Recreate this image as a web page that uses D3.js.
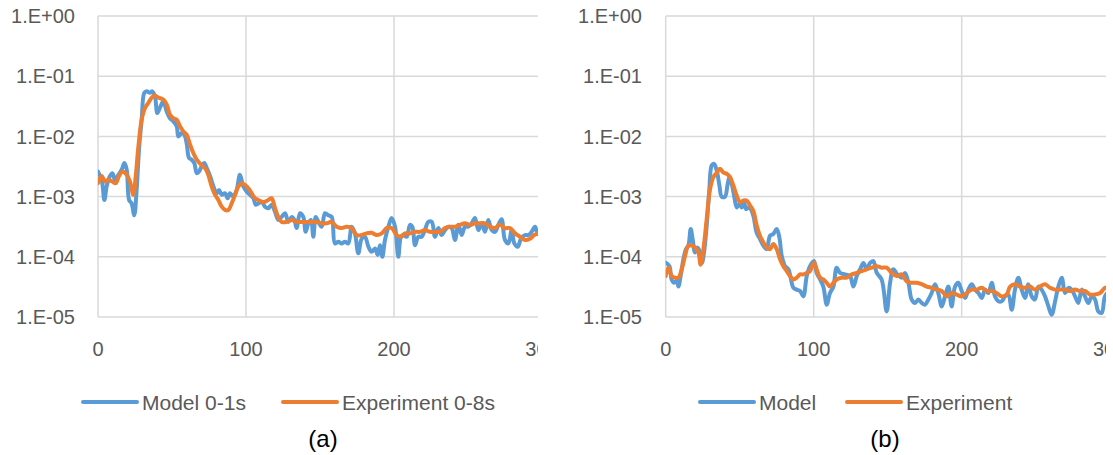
<!DOCTYPE html>
<html>
<head>
<meta charset="utf-8">
<script src="https://cdn.jsdelivr.net/npm/d3@7"></script>
<style>
  html, body { margin: 0; padding: 0; background: #fff; }
  svg { display: block; }
  text { font-family: "Liberation Sans", Arial, sans-serif; }
</style>
</head>
<body>
<svg id="chart" width="1113" height="455"></svg>
<script>
// Axis ticks
const xTicks = [0, 100, 200, 300];
const yTicks = [1, 1e-1, 1e-2, 1e-3, 1e-4, 1e-5];

// Panel (a): [time, value]
const modelA = [[0,2.6e-3],[2.5,1.9e-3],[4.3,8.8e-4],[5.9,1.5e-3],[8.1,2.2e-3],[9.7,2.45e-3],[11.5,1.9e-3],[13.3,2.2e-3],[16,2.8e-3],[17.8,3.6e-3],[19.4,2.8e-3],[21,8.8e-4],[22.7,7.7e-4],[24.5,4.9e-4],[26.1,1.3e-3],[27.7,6.0e-3],[29.5,1.9e-2],[31.3,5.3e-2],[32.9,5.6e-2],[35.1,5.3e-2],[36.7,5.6e-2],[38.5,4.6e-2],[40.1,2.45e-2],[41.9,3.0e-2],[44.1,3.8e-2],[46.4,2.6e-2],[48.6,2.0e-2],[50.9,1.78e-2],[53.2,1.47e-2],[54.3,1.0e-2],[56.5,1.14e-2],[58.3,1.07e-2],[59.9,7.7e-3],[61.5,4.4e-3],[63.3,4.1e-3],[65.1,3.6e-3],[66.7,2.45e-3],[68.2,2.6e-3],[70,3.16e-3],[71.8,3.6e-3],[73.4,3.0e-3],[75.7,2.2e-3],[78,1.47e-3],[80.2,1.14e-3],[81.8,1.29e-3],[83.6,1.07e-3],[85.8,1.14e-3],[87.6,9.4e-4],[89.2,1.14e-3],[91.4,1.0e-3],[93.7,1.29e-3],[95.9,2.3e-3],[98.2,1.47e-3],[100.5,1.21e-3],[102.7,1.07e-3],[105,9.4e-4],[106.5,7.3e-4],[108.3,7.7e-4],[110.6,8.2e-4],[112.8,6.8e-4],[115.1,6.4e-4],[117.3,7.3e-4],[119.6,5.6e-4],[121.8,4.1e-4],[124.1,4.6e-4],[126.4,5.3e-4],[128.6,3.8e-4],[130.9,4.6e-4],[132.7,4.1e-4],[134.2,3.0e-4],[136.5,5.3e-4],[138.7,4.6e-4],[140.3,2.6e-4],[142.1,3.6e-4],[143.9,4.1e-4],[145.5,2.15e-4],[147.1,4.6e-4],[148.9,3.8e-4],[151.1,3.16e-4],[153.4,5.3e-4],[155.6,4.9e-4],[157.9,4.6e-4],[160.1,1.67e-4],[162.4,1.78e-4],[164.6,1.67e-4],[166.9,1.78e-4],[169.1,1.67e-4],[171.4,3.16e-4],[173.6,2.45e-4],[175.9,1.14e-4],[178.2,2.0e-4],[180.4,2.15e-4],[182.7,1.47e-4],[184.9,1.21e-4],[187.2,1.38e-4],[189,1.07e-4],[190.5,1.56e-4],[192.1,1.0e-4],[193.9,1.9e-4],[196.2,3.16e-4],[198.4,4.4e-4],[200.7,3.16e-4],[202.9,1.0e-4],[204.7,2.15e-4],[206.3,2.3e-4],[208.6,2.15e-4],[210.8,3.4e-4],[212.4,3.16e-4],[214.2,1.56e-4],[216.4,2.15e-4],[218.7,2.15e-4],[220.9,2.78e-4],[223.2,3.8e-4],[225.5,3.8e-4],[227.7,2.15e-4],[230,3.0e-4],[232.2,2.3e-4],[234.5,2.78e-4],[236.7,3.16e-4],[239,3.0e-4],[241.2,1.9e-4],[243.5,3.4e-4],[245.7,2.3e-4],[248,3.16e-4],[250.2,3.16e-4],[252.5,3.6e-4],[254.7,4.4e-4],[257,2.78e-4],[259.2,3.6e-4],[261.5,2.6e-4],[263.7,4.1e-4],[266,2.78e-4],[268.2,2.6e-4],[270.5,3.4e-4],[272.7,4.2e-4],[275,1.9e-4],[277.3,1.67e-4],[279.5,2.78e-4],[281.3,1.67e-4],[283.6,1.47e-4],[285.8,2.0e-4],[288.5,2.3e-4],[290.8,2.3e-4],[293,2.6e-4],[295.3,3.16e-4],[297.1,2.45e-4],[300,2.6e-4]];

const experimentA = [[0,1.67e-3],[2.5,2.2e-3],[4.7,1.78e-3],[7,1.9e-3],[9.7,1.78e-3],[11.9,1.67e-3],[14.2,2.2e-3],[16.4,2.6e-3],[19.4,2.3e-3],[21.6,1.78e-3],[23.9,1.07e-3],[25.5,2.2e-3],[27.3,6.8e-3],[29.5,1.9e-2],[31.8,2.97e-2],[34,3.6e-2],[36.3,4.4e-2],[38.1,4.76e-2],[40.8,4.4e-2],[44.1,4.1e-2],[46.4,3.4e-2],[48.6,2.3e-2],[50.9,2.0e-2],[53.2,1.9e-2],[55.4,1.47e-2],[57.7,1.21e-2],[59.9,1.07e-2],[62.2,7.3e-3],[64.4,5.3e-3],[66.7,4.1e-3],[69.6,3.4e-3],[72.3,2.97e-3],[74.5,2.3e-3],[76.8,1.47e-3],[79.1,1.07e-3],[81.3,8.8e-4],[83.6,6.8e-4],[85.8,6.0e-4],[88.1,6.0e-4],[90.3,7.7e-4],[92.6,1.07e-3],[94.8,1.47e-3],[97.1,1.67e-3],[99.3,1.56e-3],[101.6,1.38e-3],[103.8,1.14e-3],[106.1,9.4e-4],[108.3,8.8e-4],[110.6,8.2e-4],[112.8,8.2e-4],[115.1,8.8e-4],[117.3,9.4e-4],[119.6,6.4e-4],[121.8,4.6e-4],[124.1,3.8e-4],[127.5,3.8e-4],[130.9,4.1e-4],[134.2,3.8e-4],[137.6,3.8e-4],[141,3.8e-4],[144.4,3.8e-4],[147.7,3.8e-4],[151.1,3.6e-4],[154.5,3.6e-4],[157.9,3.8e-4],[161.3,3.16e-4],[164.6,3.0e-4],[168,3.16e-4],[171.4,3.0e-4],[174.8,2.3e-4],[178.2,2.3e-4],[181.5,2.45e-4],[184.9,2.5e-4],[188.3,2.3e-4],[191.7,2.45e-4],[195,3.0e-4],[198.4,3.0e-4],[201.8,2.3e-4],[204.7,2.15e-4],[207.4,2.45e-4],[210.8,2.45e-4],[214.2,2.6e-4],[217.6,2.6e-4],[220.9,2.78e-4],[224.3,2.6e-4],[227.7,2.6e-4],[231.1,2.6e-4],[234.5,3.0e-4],[237.8,3.16e-4],[241.2,3.16e-4],[244.6,3.4e-4],[248,3.6e-4],[251.4,3.4e-4],[254.7,3.6e-4],[258.1,3.6e-4],[261.5,3.6e-4],[264.9,3.16e-4],[268.2,3.0e-4],[271.6,3.4e-4],[275,3.0e-4],[278.4,3.0e-4],[281.8,2.45e-4],[285.2,2.15e-4],[288.5,1.9e-4],[291.9,2.0e-4],[294.8,2.3e-4],[297.1,2.4e-4],[300,2.5e-4]];

// Panel (b): [time, value]
const modelB = [[0,8.0e-5],[2.5,7.0e-5],[4,4.2e-5],[5.6,3.7e-5],[7.4,4.0e-5],[8.6,3.2e-5],[10.1,4.8e-5],[11.9,9.0e-5],[13.7,1.34e-4],[15.3,1.53e-4],[16.9,2.9e-4],[18.2,1.97e-4],[19.8,1.18e-4],[21.4,1.43e-4],[23.2,1.18e-4],[24.5,7.9e-5],[25.9,1.18e-4],[27.7,3.3e-4],[29.5,1.34e-3],[31.1,3.3e-3],[32.7,3.5e-3],[34.5,2.7e-3],[36.3,1.53e-3],[37.8,1.0e-3],[40.1,1.0e-3],[41.7,1.53e-3],[43,2.1e-3],[44.6,1.63e-3],[46.2,1.04e-3],[48,6.6e-4],[49.8,7.5e-4],[51.4,6.6e-4],[52.9,8.1e-4],[54.3,6.2e-4],[55.9,6.6e-4],[57.4,6.2e-4],[59.2,4.8e-4],[61.5,2.5e-4],[63.7,1.97e-4],[66,1.53e-4],[68.2,1.34e-4],[70.5,2.24e-4],[72.7,2.4e-4],[75,2.9e-4],[76.8,2.1e-4],[78.4,1.04e-4],[80.6,7.0e-5],[82.9,6.2e-5],[86.3,3.05e-5],[88.5,2.85e-5],[90.8,2.7e-5],[93,2.2e-5],[95.3,4.8e-5],[97.5,7.0e-5],[100.2,8.5e-5],[102,5.4e-5],[104.3,4.2e-5],[106.5,3.2e-5],[108.8,1.6e-5],[111,2.5e-5],[113.3,3.2e-5],[115.5,6.6e-5],[117.8,5.4e-5],[121.2,5.1e-5],[124.5,4.8e-5],[126.8,3.2e-5],[129.1,4.8e-5],[131.3,6.2e-5],[133.6,7.9e-5],[135.8,6.2e-5],[138.1,7.9e-5],[140.3,8.5e-5],[142.6,5.4e-5],[145.9,4.2e-5],[149.3,1.24e-5],[151.6,3.7e-5],[153.8,6.2e-5],[156.5,5.1e-5],[159.5,4.5e-5],[161.7,5.4e-5],[164,3.7e-5],[166.2,1.95e-5],[168.5,1.71e-5],[170.7,1.95e-5],[173,1.71e-5],[175.2,1.6e-5],[177.5,1.95e-5],[179.7,2.5e-5],[182,3.5e-5],[184.2,2.5e-5],[186.5,1.5e-5],[188.7,2.2e-5],[191,3.2e-5],[193.2,1.5e-5],[195.5,3.2e-5],[197.7,3.7e-5],[200,2.7e-5],[202.3,2.07e-5],[204.5,2.85e-5],[206.8,3.5e-5],[209,2.85e-5],[211.3,2.5e-5],[213.5,2.07e-5],[215.8,2.85e-5],[218,2.5e-5],[220.3,3.7e-5],[222.5,2.2e-5],[224.8,1.82e-5],[227,1.82e-5],[229.3,2.2e-5],[231.5,2.36e-5],[233.8,1.32e-5],[236,2.85e-5],[238.3,4.5e-5],[240.5,2.85e-5],[242.8,2.07e-5],[245,3.5e-5],[247.3,2.2e-5],[249.5,1.95e-5],[251.8,3.2e-5],[254,2.85e-5],[256.3,2.2e-5],[258.6,1.5e-5],[260.8,1.09e-5],[263.1,1.82e-5],[265.3,3.2e-5],[267.6,4.5e-5],[269.8,2.5e-5],[272.1,3.05e-5],[274.3,2.85e-5],[276.6,2.2e-5],[278.8,1.71e-5],[281.1,2.85e-5],[283.3,2.2e-5],[285.6,1.71e-5],[287.8,2.2e-5],[290.1,1.95e-5],[292.3,1.24e-5],[294.6,1.17e-5],[296.8,2.2e-5],[300,2.8e-5]];

const experimentB = [[0,4.8e-5],[1.8,6.6e-5],[4,4.8e-5],[6.3,4.5e-5],[8.6,4.5e-5],[10.8,6.2e-5],[13.1,1.04e-4],[15.3,1.53e-4],[17.6,1.53e-4],[19.8,1.43e-4],[22.1,1.18e-4],[23.6,7.4e-5],[25.5,1.34e-4],[27.7,4.25e-4],[30,1.34e-3],[32.2,2.1e-3],[34.5,2.5e-3],[36.7,2.9e-3],[39,2.5e-3],[41.2,2.4e-3],[43.5,2.1e-3],[45.7,1.53e-3],[48,1.04e-3],[50.2,8.1e-4],[52.5,8.6e-4],[54.7,8.6e-4],[57,7.1e-4],[59.2,5.8e-4],[61.5,3.3e-4],[63.7,2.24e-4],[66,1.73e-4],[68.2,1.43e-4],[70.5,1.34e-4],[72.7,1.63e-4],[75,1.34e-4],[77.3,9.0e-5],[79.5,7.0e-5],[81.8,5.8e-5],[84,4.8e-5],[86.3,4.2e-5],[88.5,4.5e-5],[90.8,5.1e-5],[93,5.1e-5],[95.3,5.4e-5],[97.5,5.8e-5],[100.2,7.9e-5],[102,6.2e-5],[104.3,4.5e-5],[106.5,4.2e-5],[108.8,3.7e-5],[111,3.2e-5],[113.3,3.7e-5],[115.5,4.2e-5],[118.9,4.5e-5],[122.3,4.5e-5],[125.7,5.1e-5],[129.1,5.4e-5],[132.4,5.8e-5],[135.8,6.2e-5],[139.2,6.6e-5],[142.6,7.0e-5],[145.9,6.6e-5],[149.3,6.6e-5],[152.7,5.4e-5],[156.1,4.8e-5],[159.5,5.1e-5],[162.8,3.9e-5],[166.2,3.7e-5],[169.6,3.7e-5],[173,3.5e-5],[176.4,3.2e-5],[179.7,3.05e-5],[183.1,2.85e-5],[186.5,2.7e-5],[189.9,2.2e-5],[193.2,2.5e-5],[196.6,2.36e-5],[200,2.2e-5],[203.4,2.5e-5],[206.8,2.85e-5],[210.1,2.85e-5],[213.5,3.05e-5],[216.9,2.7e-5],[220.3,2.7e-5],[223.6,2.5e-5],[227,2.2e-5],[230.4,2.36e-5],[232.7,3.2e-5],[236,3.5e-5],[239.4,3.2e-5],[242.8,3.05e-5],[246.2,3.2e-5],[249.5,2.85e-5],[252.9,3.2e-5],[256.3,3.5e-5],[259.7,3.05e-5],[263.1,2.85e-5],[266.4,2.85e-5],[269.8,2.85e-5],[273.2,2.7e-5],[276.6,2.85e-5],[280,2.7e-5],[283.3,2.7e-5],[286.7,2.36e-5],[290.1,2.36e-5],[293.5,2.5e-5],[296.8,3.05e-5],[300,3.1e-5]];

const panels = [
  { id: "a", left: 98, right: 542, clipRight: 538, labelRight: 75,
    series: [modelA, experimentA], names: ["Model 0-1s", "Experiment 0-8s"],
    legendX: [83, 283], caption: "(a)", captionX: 323 },
  { id: "b", left: 665.7, right: 1109.7, clipRight: 1106, labelRight: 642,
    series: [modelB, experimentB], names: ["Model", "Experiment"],
    legendX: [700, 847], caption: "(b)", captionX: 885 }
];

const colors = ["#5B9BD5", "#ED7D31"];
const gridColor = "#D9D9D9";
const textColor = "#595959";
const plotTop = 16, plotBottom = 317;

const svg = d3.select("#chart");
svg.append("rect").attr("width", 1113).attr("height", 455).attr("fill", "#fff");

const fmtExp = v => {
  const e = Math.round(Math.log10(v));
  return "1.E" + (e >= 0 ? "+" : "-") + String(Math.abs(e)).padStart(2, "0");
};

panels.forEach(p => {
  const x = d3.scaleLinear().domain([0, 300]).range([p.left, p.right]);
  const y = d3.scaleLog().domain([1e-5, 1]).range([plotBottom, plotTop]);

  const defs = svg.append("defs");
  defs.append("clipPath").attr("id", "clip-" + p.id)
    .append("rect").attr("x", p.left - 120).attr("y", 0)
    .attr("width", p.clipRight - (p.left - 120)).attr("height", 455);
  defs.append("clipPath").attr("id", "plot-" + p.id)
    .append("rect").attr("x", p.left).attr("y", plotTop - 6)
    .attr("width", p.clipRight - p.left).attr("height", plotBottom - plotTop + 6);

  const g = svg.append("g").attr("clip-path", `url(#clip-${p.id})`);

  // horizontal gridlines
  g.append("g").selectAll("line").data(yTicks).join("line")
    .attr("x1", p.left).attr("x2", p.right)
    .attr("y1", d => y(d)).attr("y2", d => y(d))
    .attr("stroke", gridColor).attr("stroke-width", 1.5);

  // vertical gridlines (including the value axis at 0)
  g.append("g").selectAll("line").data(xTicks).join("line")
    .attr("x1", d => x(d)).attr("x2", d => x(d))
    .attr("y1", plotTop).attr("y2", plotBottom)
    .attr("stroke", gridColor).attr("stroke-width", 1.5);

  // y tick labels
  g.append("g").selectAll("text").data(yTicks).join("text")
    .attr("x", p.labelRight).attr("y", d => y(d))
    .attr("dy", "0.36em").attr("text-anchor", "end")
    .attr("font-size", 20).attr("fill", textColor)
    .text(fmtExp);

  // x tick labels
  g.append("g").selectAll("text").data(xTicks).join("text")
    .attr("x", d => x(d)).attr("y", 356)
    .attr("text-anchor", "middle")
    .attr("font-size", 20).attr("fill", textColor)
    .text(d => d);

  // series lines
  const line = d3.line()
    .x(d => x(d[0])).y(d => y(d[1]))
    .curve(d3.curveCatmullRom.alpha(0.5));
  const plot = g.append("g").attr("clip-path", `url(#plot-${p.id})`);
  p.series.forEach((s, i) => {
    plot.append("path").datum(s)
      .attr("d", line)
      .attr("fill", "none")
      .attr("stroke", colors[i])
      .attr("stroke-width", 4)
      .attr("stroke-linejoin", "round")
      .attr("stroke-linecap", "round");
  });

  // legend
  p.names.forEach((name, i) => {
    const lx = p.legendX[i];
    svg.append("line")
      .attr("x1", lx).attr("x2", lx + 54)
      .attr("y1", 402).attr("y2", 402)
      .attr("stroke", colors[i]).attr("stroke-width", 4)
      .attr("stroke-linecap", "round");
    svg.append("text")
      .attr("x", lx + 59).attr("y", 409.5)
      .attr("font-size", 21).attr("fill", textColor)
      .text(name);
  });

  // caption
  svg.append("text")
    .attr("x", p.captionX).attr("y", 447)
    .attr("text-anchor", "middle")
    .attr("font-size", 24).attr("fill", "#000")
    .text(p.caption);
});
</script>
</body>
</html>
